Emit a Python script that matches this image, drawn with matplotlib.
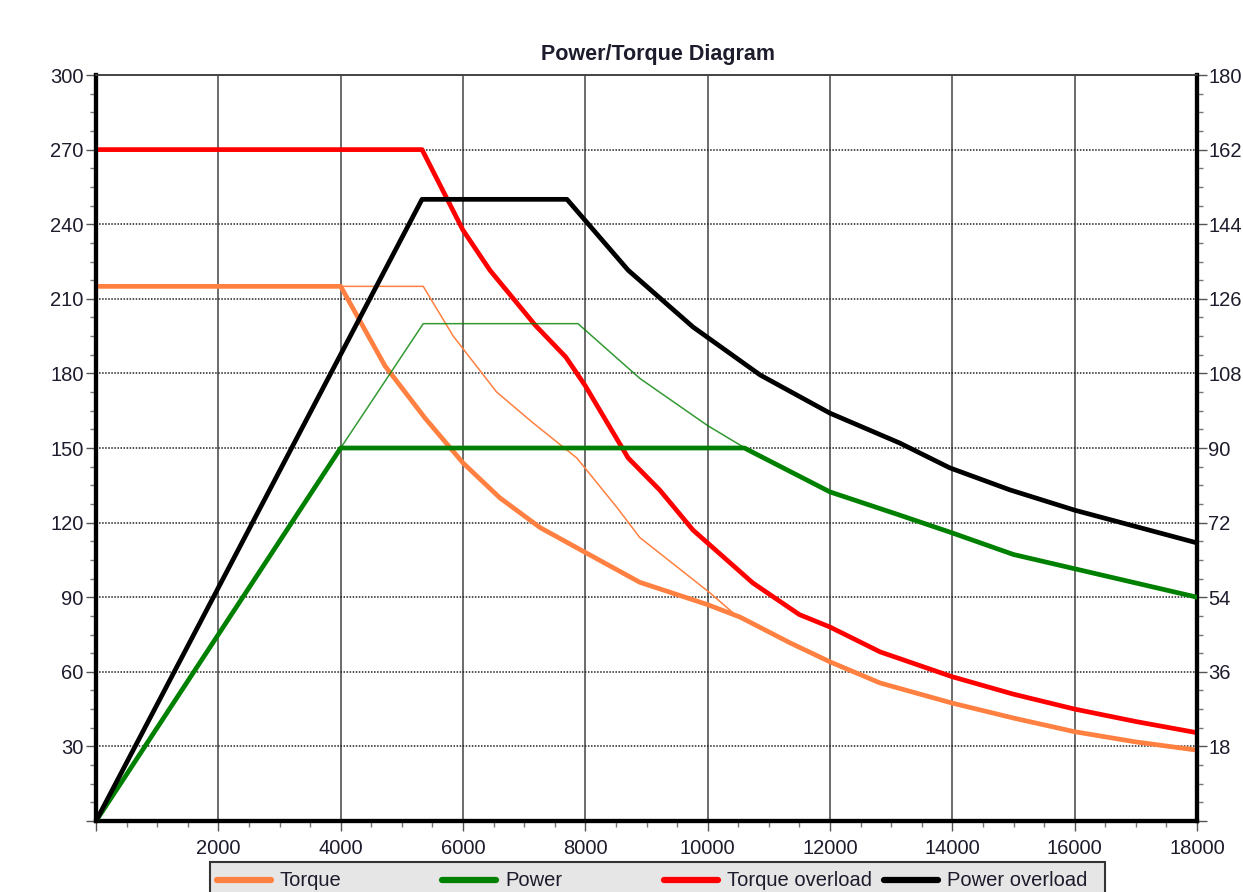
import numpy as np
import matplotlib
matplotlib.use('Agg')
import matplotlib.pyplot as plt
from matplotlib.lines import Line2D
from matplotlib.patches import Rectangle

plt.rcParams['font.family'] = ['Liberation Sans', 'DejaVu Sans']

# speeds in rpm, torque in Nm (left axis), power in kW (right axis)
rpm_torque = [0, 4000, 4725, 5380, 6000, 6600, 7260, 8000, 8890, 10000, 10530,
              11350, 12000, 12820, 14000, 15000, 16000, 17000, 18000]
torque = [215, 215, 183, 162, 144, 130, 118, 108, 96, 87, 82,
          71.6, 64, 55.5, 47.4, 41.4, 35.9, 31.8, 28.5]

rpm_torque_thin = [4000, 5350, 5840, 6550, 7150, 7860, 8520, 8890, 10040, 10420]
torque_thin = [215, 215, 195, 172.5, 160, 146, 126, 114, 91.7, 83.6]

rpm_power = [0, 4000, 10600, 12000, 13100, 14000, 15000, 16600, 18000]
power = [0, 90, 90, 79.4, 74, 69.5, 64.3, 58.8, 54]

rpm_power_thin = [4000, 5350, 7880, 8890, 10000, 10610]
power_thin = [90, 120, 120, 106.8, 95.4, 90]

rpm_torque_ovl = [0, 5330, 6000, 6440, 7180, 7680, 8000, 8700, 9220, 9760,
                  10740, 11500, 12000, 12820, 14000, 15000, 16000, 17000, 18000]
torque_ovl = [270, 270, 237.6, 221.5, 199.4, 186.6, 175, 146, 133, 117,
              95.7, 83, 78, 68, 58, 51, 45, 40, 35.5]

rpm_power_ovl = [0, 5330, 7700, 8700, 9760, 10860, 12000, 13140, 13960, 14940, 16000, 18000]
power_ovl = [0, 150, 150, 132.9, 119.2, 107.6, 98.4, 91.2, 85.2, 79.9, 75, 67.1]

legend_names = ['Torque', 'Power', 'Torque overload', 'Power overload']
c_torque = '#ff8040'
c_power = '#008000'
c_tovl = '#ff0000'
c_povl = '#000000'
txt = '#1c1c2c'

W, H = 1243, 892
fig = plt.figure(figsize=(W / 100, H / 100), dpi=100)
ax = fig.add_axes([96 / W, 1 - 821 / H, (1197 - 96) / W, (821 - 75) / H])
ax2 = ax.twinx()

ax.set_xlim(0, 18000)
ax.set_ylim(0, 300)
ax2.set_ylim(0, 180)

# grid: vertical solid, horizontal dotted
ax.set_xticks(np.arange(0, 18001, 2000))
ax.set_xticklabels([''] + [str(v) for v in range(2000, 18001, 2000)])
ax.set_xticks(np.arange(0, 18001, 500), minor=True)
ax.set_yticks(np.arange(0, 301, 30))
ax.set_yticklabels([''] + [str(v) for v in range(30, 301, 30)])
ax.set_yticks(np.arange(0, 301, 7.5), minor=True)
ax2.set_yticks(np.arange(0, 181, 18))
ax2.set_yticklabels([''] + [str(v) for v in range(18, 181, 18)])
ax2.set_yticks(np.arange(0, 181, 4.5), minor=True)

ax.grid(axis='x', which='major', color='#444444', lw=1.1, ls='-')
ax.grid(axis='y', which='major', color='#222222', lw=1.1, ls=(0, (1, 1)))
ax.set_axisbelow(True)

for a in (ax, ax2):
    a.tick_params(which='major', length=7, width=1, color='#555555',
                  labelsize=14.5, labelcolor=txt, pad=2)
    a.tick_params(which='minor', length=4, width=1, color='#777777')
    for s in ('left', 'bottom', 'right'):
        a.spines[s].set_linewidth(3)
        a.spines[s].set_color('black')
    a.spines['top'].set_linewidth(1.2)
    a.spines['top'].set_color('#444444')
ax.tick_params(axis='x', pad=6)
ax2.tick_params(axis='y', pad=1)

# thin lines (continuous rating curves)
ax.plot(rpm_torque_thin, torque_thin, color=c_torque, lw=1.1, zorder=3)
ax2.plot(rpm_power_thin, power_thin, color=c_power, lw=1.1, alpha=0.8, zorder=3)

# thick lines
ax.plot(rpm_torque, torque, color=c_torque, lw=3.4, zorder=4)
ax2.plot(rpm_power, power, color=c_power, lw=3.4, zorder=4)
ax.plot(rpm_torque_ovl, torque_ovl, color=c_tovl, lw=3.4, zorder=5)
ax2.plot(rpm_power_ovl, power_ovl, color=c_povl, lw=3.4, zorder=5)

ax.set_title('Power/Torque Diagram', fontsize=15.5, fontweight='bold', color=txt,
             pad=11, x=0.51)

# legend box at the bottom, cut by the figure edge
fig.patches.append(Rectangle((210 / W, 1 - 905 / H), (1105 - 210) / W, 43 / H,
                             transform=fig.transFigure, facecolor='#e6e6e6',
                             edgecolor='#333333', lw=1.5, zorder=0))
colors = [c_torque, c_power, c_tovl, c_povl]
handle_x = [213, 438, 660, 880]
for name, col, hx in zip(legend_names, colors, handle_x):
    fig.lines.append(Line2D([(hx + 4) / W, (hx + 58) / W], [1 - 880 / H] * 2,
                            transform=fig.transFigure, color=col, lw=4.5,
                            solid_capstyle='round'))
    fig.text((hx + 67) / W, 1 - 881 / H, name, fontsize=14.5, color=txt,
             va='center', ha='left')

fig.savefig('out.png', dpi=100)
